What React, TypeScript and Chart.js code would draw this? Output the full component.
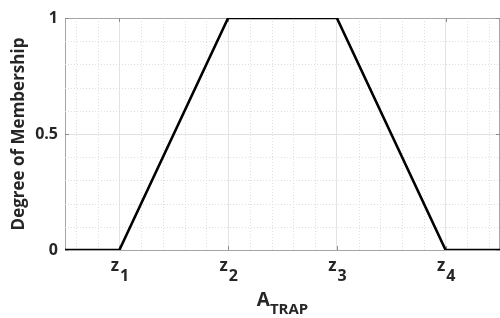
import React, { useEffect, useRef } from "react";
import { Chart, registerables } from "chart.js";

Chart.register(...registerables);

// ---- data ----
const X_VALUES = [0.5, 1, 2, 3, 4, 4.5];
const MEMBERSHIP = [0, 0, 1, 1, 0, 0];
const X_TICKS = [1, 2, 3, 4];
const X_TICK_BASE = "z";
const X_TICK_SUBS = ["1", "2", "3", "4"];
const Y_TICKS = [0, 0.5, 1];
const Y_TICK_LABELS = ["0", "0.5", "1"];
const X_TITLE_BASE = "A";
const X_TITLE_SUB = "TRAP";
const Y_TITLE = "Degree of Membership";
const X_MIN = 0.5;
const X_MAX = 4.5;
const X_MINOR_STEP = 0.2;
const Y_MINOR_STEP = 0.1;

const FONT = "'Open Sans', 'DejaVu Sans', sans-serif";
const TEXT = "#262626";
const AXIS = "#a6a6a6";

const extrasPlugin = {
  id: "extras",
  beforeDatasetsDraw(chart: any) {
    const { ctx, chartArea, scales } = chart;
    const xs = scales.x;
    const ys = scales.y;
    ctx.save();
    ctx.strokeStyle = "#dedede";
    ctx.lineWidth = 1;
    ctx.setLineDash([1, 2]);
    // minor vertical
    const k0 = Math.ceil(X_MIN / X_MINOR_STEP - 1e-6);
    const k1 = Math.floor(X_MAX / X_MINOR_STEP + 1e-6);
    for (let k = k0; k <= k1; k++) {
      const v = Math.round(k * X_MINOR_STEP * 1000) / 1000;
      if (X_TICKS.includes(v) || v <= X_MIN || v >= X_MAX) continue;
      const px = Math.round(xs.getPixelForValue(v)) + 0.5;
      ctx.beginPath();
      ctx.moveTo(px, chartArea.top);
      ctx.lineTo(px, chartArea.bottom);
      ctx.stroke();
    }
    // minor horizontal
    for (let i = 1; i < 10; i++) {
      const v = Math.round(i * Y_MINOR_STEP * 1000) / 1000;
      if (Y_TICKS.includes(v)) continue;
      const py = Math.round(ys.getPixelForValue(v)) + 0.5;
      ctx.beginPath();
      ctx.moveTo(chartArea.left, py);
      ctx.lineTo(chartArea.right, py);
      ctx.stroke();
    }
    ctx.setLineDash([]);
    // top border
    ctx.strokeStyle = AXIS;
    ctx.beginPath();
    ctx.moveTo(chartArea.left, chartArea.top + 0.5);
    ctx.lineTo(chartArea.right, chartArea.top + 0.5);
    ctx.stroke();
    // right border
    ctx.beginPath();
    ctx.moveTo(chartArea.right - 0.5, chartArea.top);
    ctx.lineTo(chartArea.right - 0.5, chartArea.bottom);
    ctx.stroke();
    // inner tick marks
    ctx.strokeStyle = "#8c8c8c";
    X_TICKS.forEach((v) => {
      const px = Math.round(xs.getPixelForValue(v)) + 0.5;
      ctx.beginPath();
      ctx.moveTo(px, chartArea.top);
      ctx.lineTo(px, chartArea.top + 4);
      ctx.moveTo(px, chartArea.bottom);
      ctx.lineTo(px, chartArea.bottom - 4);
      ctx.stroke();
    });
    Y_TICKS.forEach((v) => {
      const py = Math.round(ys.getPixelForValue(v)) + 0.5;
      ctx.beginPath();
      ctx.moveTo(chartArea.left, py);
      ctx.lineTo(chartArea.left + 4, py);
      ctx.moveTo(chartArea.right, py);
      ctx.lineTo(chartArea.right - 4, py);
      ctx.stroke();
    });
    ctx.restore();
  },
  afterDraw(chart: any) {
    const { ctx, chartArea, scales } = chart;
    const xs = scales.x;
    ctx.save();
    ctx.fillStyle = TEXT;
    ctx.textBaseline = "alphabetic";
    ctx.textAlign = "left";
    const baseFont = `bold 17px ${FONT}`;
    const subFont = `bold 16px ${FONT}`;
    X_TICKS.forEach((v, i) => {
      const px = xs.getPixelForValue(v);
      ctx.font = baseFont;
      const wb = ctx.measureText(X_TICK_BASE).width;
      ctx.font = subFont;
      const ws = ctx.measureText(X_TICK_SUBS[i]).width;
      const start = px - (wb + ws) / 2;
      ctx.font = baseFont;
      ctx.fillText(X_TICK_BASE, start, chartArea.bottom + 21);
      ctx.font = subFont;
      ctx.fillText(X_TICK_SUBS[i], start + wb + 1, chartArea.bottom + 31);
    });
    // x title
    const tb = `bold 19px ${FONT}`;
    const ts = `bold 15px ${FONT}`;
    ctx.font = tb;
    const wA = ctx.measureText(X_TITLE_BASE).width;
    ctx.font = ts;
    const wT = ctx.measureText(X_TITLE_SUB).width;
    const cx = (chartArea.left + chartArea.right) / 2;
    const sx = cx - (wA + wT) / 2;
    ctx.font = tb;
    ctx.fillText(X_TITLE_BASE, sx, 306);
    ctx.font = ts;
    ctx.fillText(X_TITLE_SUB, sx + wA, 314);
    ctx.restore();
  },
};

export default function App() {
  const ref = useRef<HTMLCanvasElement | null>(null);
  useEffect(() => {
    if (!ref.current) return;
    const chart = new Chart(ref.current, {
      type: "line",
      data: {
        datasets: [
          {
            data: X_VALUES.map((x, i) => ({ x, y: MEMBERSHIP[i] })),
            borderColor: "#000000",
            borderWidth: 2.6,
            pointRadius: 0,
            tension: 0,
            fill: false,
          },
        ],
      },
      options: {
        responsive: false,
        animation: false,
        devicePixelRatio: 1,
        layout: { padding: { top: 18, right: 0, left: 0, bottom: 0 } },
        plugins: { legend: { display: false }, tooltip: { enabled: false } },
        scales: {
          x: {
            type: "linear",
            min: X_MIN,
            max: X_MAX,
            afterBuildTicks: (s: any) => {
              s.ticks = X_TICKS.map((v) => ({ value: v }));
            },
            afterFit: (s: any) => {
              s.height = 68;
            },
            ticks: { display: false },
            grid: { color: "#e3e3e3", lineWidth: 1, drawTicks: false },
            border: { color: AXIS, width: 1 },
          },
          y: {
            type: "linear",
            min: 0,
            max: 1,
            afterBuildTicks: (s: any) => {
              s.ticks = Y_TICKS.map((v) => ({ value: v }));
            },
            afterFit: (s: any) => {
              s.width = 65;
            },
            ticks: {
              padding: 7,
              color: TEXT,
              font: { family: FONT, size: 16, weight: "bold" },
              callback: (v: any) => {
                const i = Y_TICKS.indexOf(Number(v));
                return i >= 0 ? Y_TICK_LABELS[i] : "";
              },
            },
            grid: { color: "#e3e3e3", lineWidth: 1, drawTicks: false },
            border: { color: AXIS, width: 1 },
            title: {
              display: true,
              text: Y_TITLE,
              color: TEXT,
              font: { family: FONT, size: 17, weight: "bold" },
              padding: { top: 9, bottom: 0 },
            },
          },
        },
      },
      plugins: [extrasPlugin],
    } as any);
    return () => chart.destroy();
  }, []);
  return (
    <div style={{ position: "absolute", left: 0, top: 0, width: 500, height: 318, background: "#fff" }}>
      <canvas ref={ref} width={500} height={318} style={{ width: 500, height: 318, display: "block" }} />
    </div>
  );
}
